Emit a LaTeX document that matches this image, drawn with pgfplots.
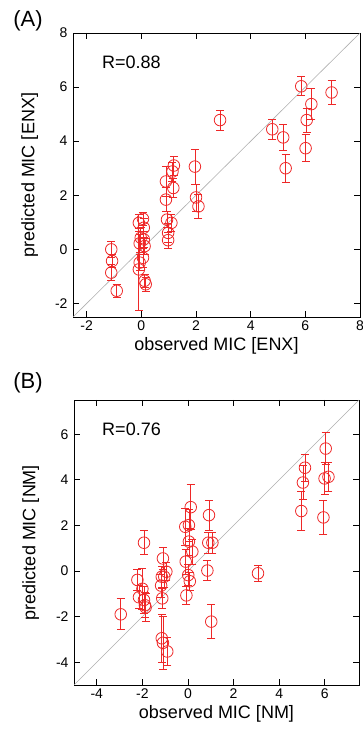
\documentclass[border=0pt]{standalone}
\usepackage{pgfplots}
\pgfplotsset{compat=1.18}
\usepackage{pgfplotstable}
\usepackage{fontspec}
\setmainfont{Liberation Sans}
\definecolor{mred}{RGB}{238,40,40}
\definecolor{dgray}{RGB}{175,175,175}
\pgfplotstableread{
x y e
-1.10 0.00 0.30
-1.07 -0.43 0.25
-1.10 -0.86 0.30
-0.90 -1.53 0.25
-0.09 0.98 0.33
0.06 1.13 0.25
0.09 0.80 0.35
-0.02 0.43 0.40
0.09 0.37 0.30
-0.06 0.22 0.35
0.12 0.12 0.30
0.06 -0.31 0.35
-0.06 -0.49 0.30
-0.09 -0.74 1.50
0.12 -1.16 0.25
0.16 -1.29 0.25
0.90 2.51 0.55
0.90 1.84 0.45
0.94 1.10 0.30
1.10 0.98 0.30
0.98 0.61 0.35
0.98 0.34 0.30
1.14 2.88 0.35
1.19 3.10 0.35
1.17 2.27 0.35
1.96 3.06 0.65
2.00 1.92 0.50
2.09 1.59 0.43
2.88 4.78 0.37
4.79 4.44 0.36
5.19 4.14 0.47
5.28 3.00 0.52
5.85 6.03 0.35
6.22 5.37 0.57
6.05 4.78 0.45
6.01 3.74 0.50
6.96 5.80 0.43
}\dataA
\pgfplotstableread{
x y e
-2.95 -1.90 0.68
-2.22 -0.39 0.45
-2.15 -1.15 0.50
-2.00 -0.78 0.90
-1.93 -1.27 0.60
-1.89 -1.50 0.55
-1.86 -1.60 0.60
-1.93 1.24 0.53
-1.10 0.55 0.50
-1.15 -0.25 0.45
-1.18 -0.64 0.50
-1.13 -1.20 0.45
-0.95 -0.03 0.40
-1.04 -0.25 0.45
-1.15 -2.95 1.05
-1.10 -3.15 1.15
-0.91 -3.53 0.60
-0.12 1.94 0.80
0.04 2.01 0.70
0.12 2.80 0.98
0.04 1.29 0.60
0.19 0.85 0.55
-0.10 0.41 0.55
0.01 -0.18 0.45
0.08 -0.45 0.40
-0.07 -1.07 0.40
0.92 2.45 0.65
0.89 1.24 0.45
1.07 1.24 0.45
0.85 0.02 0.45
1.02 -2.22 0.75
3.07 -0.10 0.35
4.97 2.63 0.87
5.04 3.88 0.75
5.13 4.53 0.60
5.94 2.35 0.75
6.04 5.37 0.70
5.99 4.06 0.70
6.16 4.13 0.65
}\dataB
\pgfplotsset{
  myax/.style={
    scale only axis,
    anchor=south west,
    tick align=inside,
    xtick pos=both, ytick pos=both,
    major tick length=6pt,
    axis line style={black, line width=0.8pt},
    every tick/.style={black, line width=0.8pt},
    /pgf/number format/assume math mode=true,
    ticklabel style={font=\fontsize{14}{16}\selectfont},
    yticklabel style={xshift=-2pt},
    label style={font=\fontsize{18}{20}\selectfont},
    ylabel shift=10pt,
    clip=true,
  },
  mypts/.style={
    only marks, mark=o, mark size=5.8pt,
    mred, mark options={mred, line width=0.8pt},
    error bars/.cd, y dir=both, y explicit,
    error bar style={mred, line width=0.8pt},
    error mark options={mred, mark size=4pt, line width=0.8pt, rotate=90},
  },
}
\begin{document}
\begin{tikzpicture}
\path[use as bounding box] (0,0) rectangle (363pt,735pt);
\begin{axis}[myax,
  at={(73pt,418pt)}, width=287pt, height=284pt,
  xmin=-2.5, xmax=8, ymin=-2.5, ymax=8,
  xtick={-2,0,2,4,6,8}, ytick={-2,0,2,4,6,8},
  xlabel={observed MIC [ENX]}, ylabel={predicted MIC [ENX]},
  ]
\addplot[dgray, line width=0.6pt] coordinates {(-2.5,-2.5) (8,8)};
\addplot[mypts] table[x=x, y=y, y error=e] {\dataA};
\node[anchor=west, font=\fontsize{18}{20}\selectfont, inner sep=0pt] at (axis cs:-1.44,6.91) {R=0.88};
\end{axis}
\begin{axis}[myax,
  at={(74pt,50pt)}, width=285pt, height=285pt,
  xmin=-5, xmax=7.5, ymin=-5, ymax=7.5,
  xtick={-4,-2,0,2,4,6}, ytick={-4,-2,0,2,4,6},
  xlabel={observed MIC [NM]}, ylabel={predicted MIC [NM]},
  ]
\addplot[dgray, line width=0.6pt] coordinates {(-5,-5) (7.5,7.5)};
\addplot[mypts] table[x=x, y=y, y error=e] {\dataB};
\node[anchor=west, font=\fontsize{18}{20}\selectfont, inner sep=0pt] at (axis cs:-3.77,6.23) {R=0.76};
\end{axis}
\node[font=\fontsize{22}{24}\selectfont] at (28pt,714pt) {(A)};
\node[font=\fontsize{22}{24}\selectfont] at (28pt,352pt) {(B)};
\end{tikzpicture}
\end{document}
